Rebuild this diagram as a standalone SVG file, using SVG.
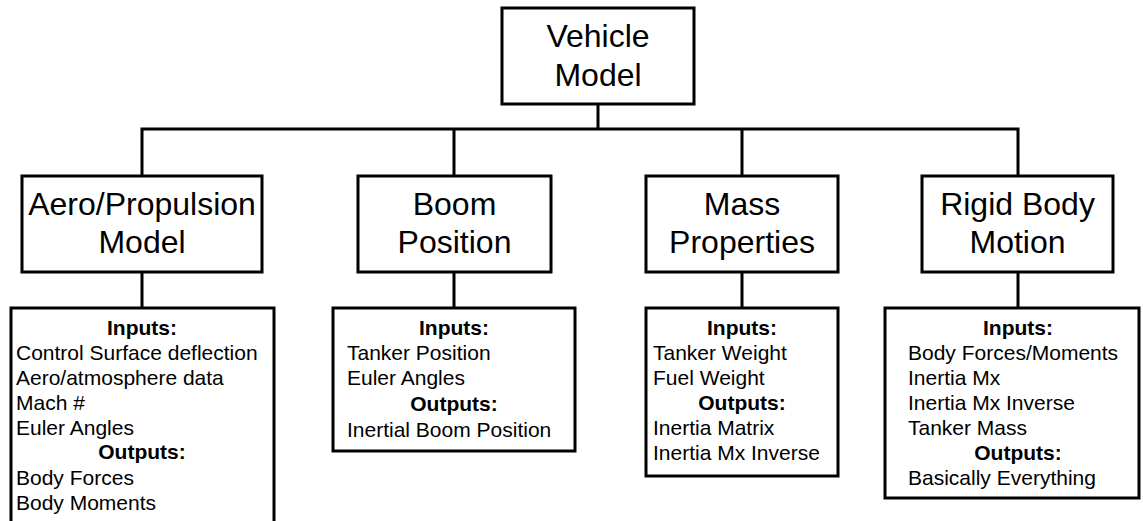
<svg xmlns="http://www.w3.org/2000/svg" width="1143" height="521" viewBox="0 0 1143 521">
<style>
.box{fill:#fff;stroke:#000;stroke-width:3}
.ln{fill:none;stroke:#000;stroke-width:3}
.t{font-family:"Liberation Sans",Arial,sans-serif;font-size:32px;fill:#000;text-anchor:middle}
.b{font-family:"Liberation Sans",Arial,sans-serif;font-size:21px;fill:#000}
.h{font-weight:bold;text-anchor:middle}
</style>
<rect width="1143" height="521" fill="#fff"/>
<g id="connectors">
<path class="ln" d="M598,104 V129 M142,176 V129 H1018 V176 M454,129 V176 M742,129 V176"/>
<path class="ln" d="M142,272 V308 M454,272 V308 M742,272 V308 M1018,272 V308"/>
</g>
<g id="vehicle">
<rect class="box" x="502" y="8" width="192" height="96"/>
<text class="t" x="598" y="47">Vehicle</text>
<text class="t" x="598" y="86">Model</text>
</g>
<g id="aero">
<rect class="box" x="22" y="176" width="240" height="96"/>
<text class="t" x="142" y="215">Aero/Propulsion</text>
<text class="t" x="142" y="253">Model</text>
</g>
<g id="boom">
<rect class="box" x="358" y="176" width="193" height="96"/>
<text class="t" x="454.5" y="215">Boom</text>
<text class="t" x="454.5" y="253">Position</text>
</g>
<g id="mass">
<rect class="box" x="646" y="176" width="192" height="96"/>
<text class="t" x="742" y="215">Mass</text>
<text class="t" x="742" y="253">Properties</text>
</g>
<g id="rigid">
<rect class="box" x="922" y="176" width="191" height="96"/>
<text class="t" x="1017.5" y="215">Rigid Body</text>
<text class="t" x="1017.5" y="253">Motion</text>
</g>
<g id="aero-io">
<rect class="box" x="11" y="308" width="263" height="230"/>
<text class="b h" x="142" y="335">Inputs:</text>
<text class="b" x="16" y="360">Control Surface deflection</text>
<text class="b" x="16" y="385">Aero/atmosphere data</text>
<text class="b" x="16" y="410">Mach #</text>
<text class="b" x="16" y="435">Euler Angles</text>
<text class="b h" x="142" y="459">Outputs:</text>
<text class="b" x="16" y="485">Body Forces</text>
<text class="b" x="16" y="510">Body Moments</text>
</g>
<g id="boom-io">
<rect class="box" x="333" y="308" width="242" height="143"/>
<text class="b h" x="454" y="335">Inputs:</text>
<text class="b" x="347" y="360">Tanker Position</text>
<text class="b" x="347" y="385">Euler Angles</text>
<text class="b h" x="454" y="411">Outputs:</text>
<text class="b" x="347" y="437">Inertial Boom Position</text>
</g>
<g id="mass-io">
<rect class="box" x="646" y="308" width="192" height="168"/>
<text class="b h" x="742" y="335">Inputs:</text>
<text class="b" x="653" y="360">Tanker Weight</text>
<text class="b" x="653" y="385">Fuel Weight</text>
<text class="b h" x="742" y="410">Outputs:</text>
<text class="b" x="653" y="435">Inertia Matrix</text>
<text class="b" x="653" y="460">Inertia Mx Inverse</text>
</g>
<g id="rigid-io">
<rect class="box" x="885" y="308" width="254" height="190"/>
<text class="b h" x="1018" y="335">Inputs:</text>
<text class="b" x="908" y="360">Body Forces/Moments</text>
<text class="b" x="908" y="385">Inertia Mx</text>
<text class="b" x="908" y="410">Inertia Mx Inverse</text>
<text class="b" x="908" y="435">Tanker Mass</text>
<text class="b h" x="1018" y="460">Outputs:</text>
<text class="b" x="908" y="485">Basically Everything</text>
</g>
</svg>
